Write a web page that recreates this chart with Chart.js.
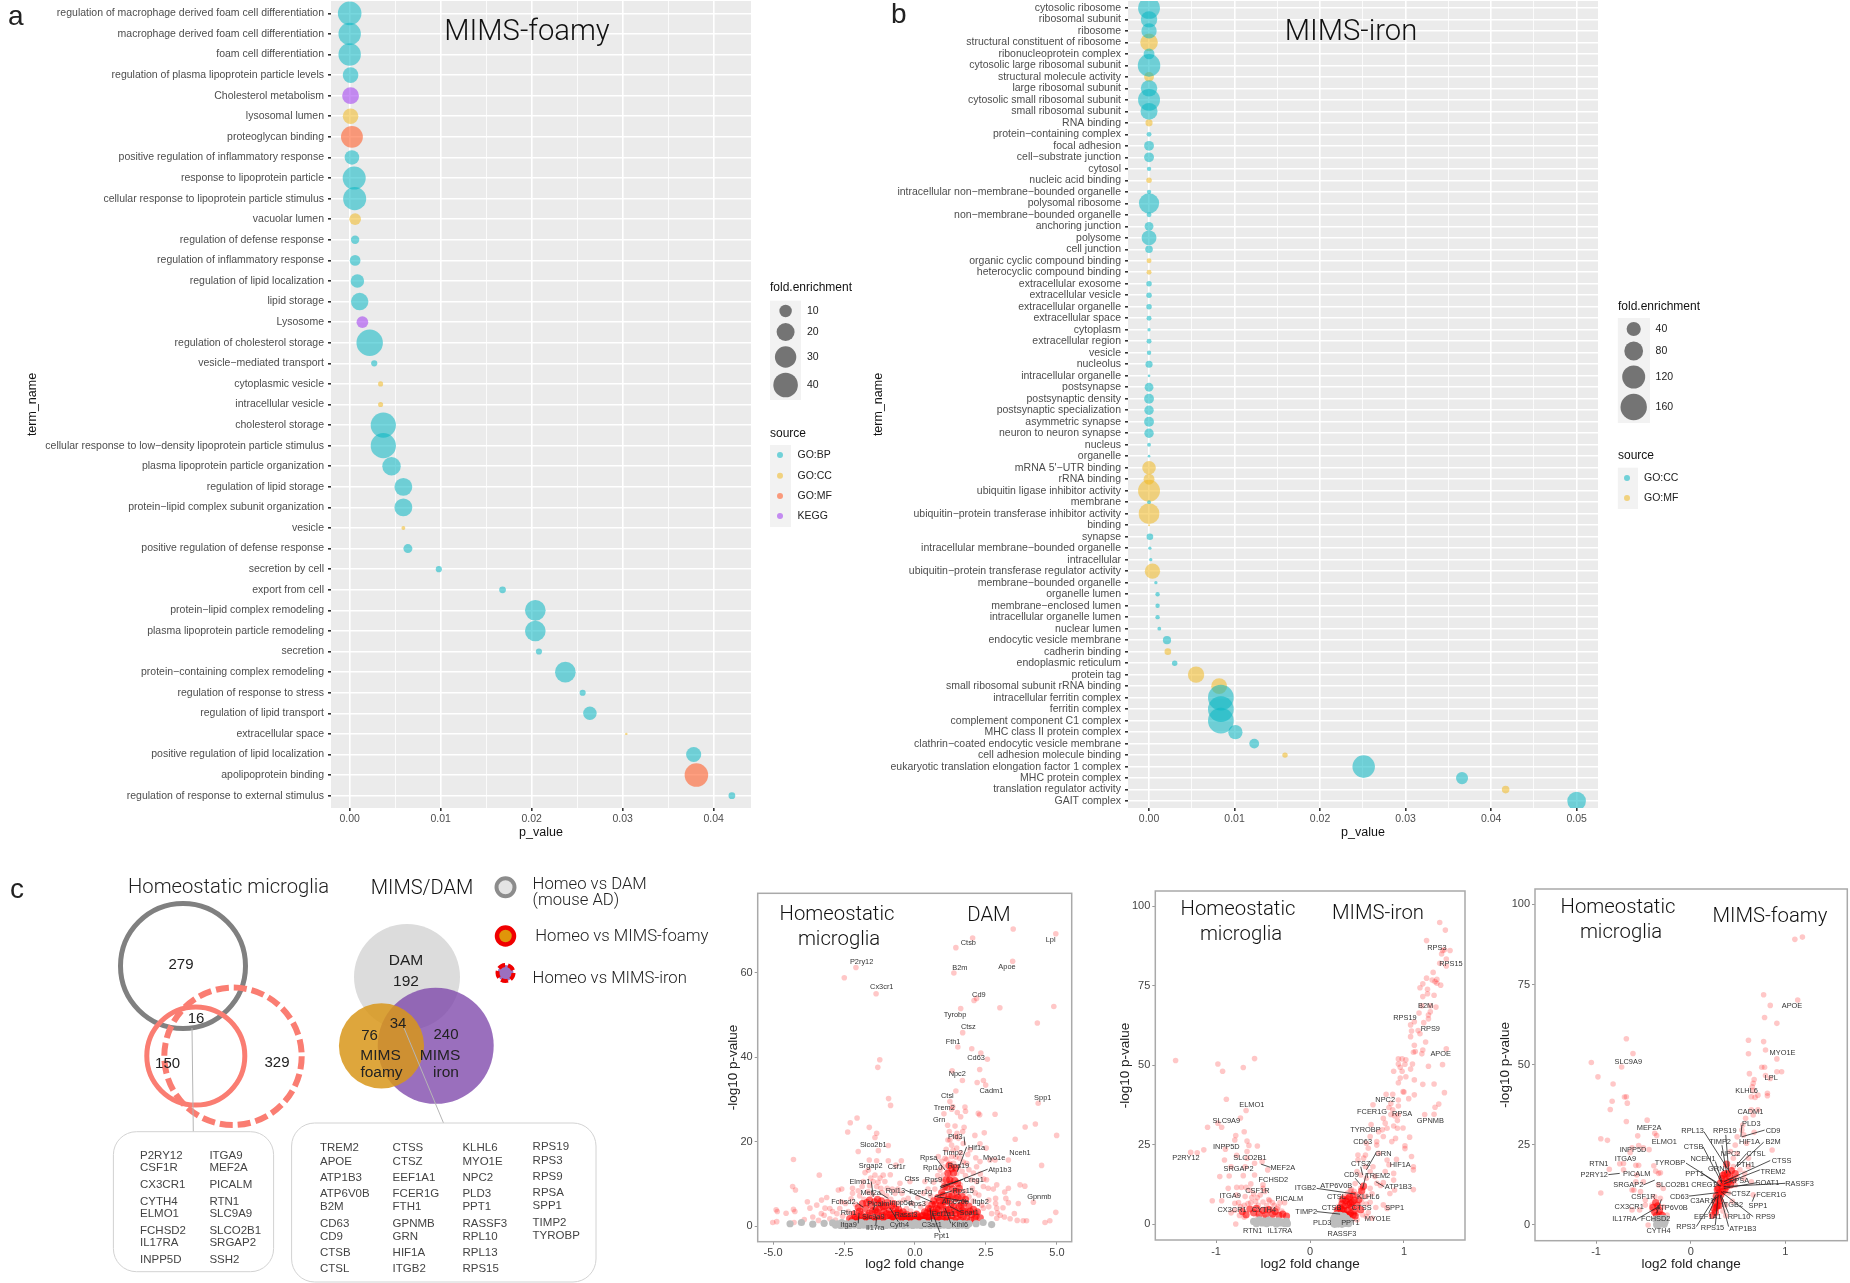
<!DOCTYPE html>
<html>
<head>
<meta charset="utf-8">
<title>MIMS</title>
<script src="https://cdn.jsdelivr.net/npm/chart.js@4"></script>
<style>
html, body { margin: 0; padding: 0; background: #fff; overflow: hidden; }
#page { position: relative; width: 1850px; height: 1283px; }
canvas { position: absolute; }
</style>
</head>
<body>
<div id="page"></div>
<script>
// panel a
const termsA = ['regulation of macrophage derived foam cell differentiation','macrophage derived foam cell differentiation','foam cell differentiation','regulation of plasma lipoprotein particle levels','Cholesterol metabolism','lysosomal lumen','proteoglycan binding','positive regulation of inflammatory response','response to lipoprotein particle','cellular response to lipoprotein particle stimulus','vacuolar lumen','regulation of defense response','regulation of inflammatory response','regulation of lipid localization','lipid storage','Lysosome','regulation of cholesterol storage','vesicle\u2212mediated transport','cytoplasmic vesicle','intracellular vesicle','cholesterol storage','cellular response to low\u2212density lipoprotein particle stimulus','plasma lipoprotein particle organization','regulation of lipid storage','protein\u2212lipid complex subunit organization','vesicle','positive regulation of defense response','secretion by cell','export from cell','protein\u2212lipid complex remodeling','plasma lipoprotein particle remodeling','secretion','protein\u2212containing complex remodeling','regulation of response to stress','regulation of lipid transport','extracellular space','positive regulation of lipid localization','apolipoprotein binding','regulation of response to external stimulus'];
const pValuesA = [0,0,0,0.0001,0.0001,0.0001,0.00025,0.00025,0.0005,0.00055,0.0006,0.0006,0.0006,0.00085,0.0011,0.0014,0.0022,0.0027,0.0034,0.0034,0.0037,0.0037,0.0046,0.0059,0.0059,0.0059,0.0064,0.0098,0.0168,0.0204,0.0204,0.0208,0.0237,0.0256,0.0264,0.0304,0.0378,0.0381,0.042];
const foldA = [36.5,33,33,16,18.6,16,31.5,14,35,35,9,4.7,7.5,12,20,9,46,2.5,1.7,1.7,42,42,22.5,21,21,1,5.3,2.5,3,28,28,2.5,28,2.5,12,0.4,15,36.5,3];
const sourceA = ['BP','BP','BP','BP','KEGG','CC','MF','BP','BP','BP','CC','BP','BP','BP','BP','KEGG','BP','BP','CC','CC','BP','BP','BP','BP','BP','CC','BP','BP','BP','BP','BP','BP','BP','BP','BP','CC','BP','MF','BP'];
const xTicksA = [0,0.005,0.01,0.015,0.02,0.025,0.03,0.035,0.04];

// panel b
const termsB = ['cytosolic ribosome','ribosomal subunit','ribosome','structural constituent of ribosome','ribonucleoprotein complex','cytosolic large ribosomal subunit','structural molecule activity','large ribosomal subunit','cytosolic small ribosomal subunit','small ribosomal subunit','RNA binding','protein\u2212containing complex','focal adhesion','cell\u2212substrate junction','cytosol','nucleic acid binding','intracellular non\u2212membrane\u2212bounded organelle','polysomal ribosome','non\u2212membrane\u2212bounded organelle','anchoring junction','polysome','cell junction','organic cyclic compound binding','heterocyclic compound binding','extracellular exosome','extracellular vesicle','extracellular organelle','extracellular space','cytoplasm','extracellular region','vesicle','nucleolus','intracellular organelle','postsynapse','postsynaptic density','postsynaptic specialization','asymmetric synapse','neuron to neuron synapse','nucleus','organelle',"mRNA 5'\u2212UTR binding",'rRNA binding','ubiquitin ligase inhibitor activity','membrane','ubiquitin\u2212protein transferase inhibitor activity','binding','synapse','intracellular membrane\u2212bounded organelle','intracellular','ubiquitin\u2212protein transferase regulator activity','membrane\u2212bounded organelle','organelle lumen','membrane\u2212enclosed lumen','intracellular organelle lumen','nuclear lumen','endocytic vesicle membrane','cadherin binding','endoplasmic reticulum','protein tag','small ribosomal subunit rRNA binding','intracellular ferritin complex','ferritin complex','complement component C1 complex','MHC class II protein complex','clathrin\u2212coated endocytic vesicle membrane','cell adhesion molecule binding','eukaryotic translation elongation factor 1 complex','MHC protein complex','translation regulator activity','GAIT complex'];
const pValuesB = [0,0,0,0,0,0,0,0,0,0,0,0,0,0,0,0,0,0,0,0,0,0,0,0,0,0,0,0,0,0,0,0,0,0,0,0,0,0,0,0,0,0,0,0,0,0,0.0001,0.0001,0.0002,0.0004,0.0008,0.001,0.001,0.001,0.0012,0.0021,0.0022,0.003,0.0055,0.0082,0.0084,0.0084,0.0084,0.0101,0.0123,0.0159,0.0251,0.0366,0.0417,0.05];
const foldB = [109,61,53,70,27,115,22,61,109,65,11.5,5.5,22,22,4.4,6.8,4.4,93,5.5,17.5,50,13,5.5,5.5,6.8,6.8,6.8,5.5,2.5,5.5,4.4,11.5,1.7,17.5,22,20,22,20,3.3,1.7,42,27,109,3.3,98,1,10,2.5,2.5,53,2.5,4.4,4.4,4.4,3.3,15,10,6.8,61,57,150,150,150,46,22,6.8,115,33,13,79];
const sourceB = ['CC','CC','CC','MF','CC','CC','MF','CC','CC','CC','MF','CC','CC','CC','CC','MF','CC','CC','CC','CC','CC','CC','MF','MF','CC','CC','CC','CC','CC','CC','CC','CC','CC','CC','CC','CC','CC','CC','CC','CC','MF','MF','MF','CC','MF','MF','CC','CC','CC','MF','CC','CC','CC','CC','CC','CC','MF','CC','MF','MF','CC','CC','CC','CC','CC','MF','CC','CC','MF','CC'];
const xTicksB = [0,0.005,0.01,0.015,0.02,0.025,0.03,0.035,0.04,0.045,0.05];

const sourceColors = { BP: 'rgba(8,183,194,0.55)', CC: 'rgba(240,184,32,0.55)', MF: 'rgba(255,100,50,0.62)', KEGG: 'rgba(165,70,240,0.6)' };
const sourceColorsB = { CC: 'rgba(8,183,194,0.55)', MF: 'rgba(240,184,32,0.55)' };

// volcano DAM
const damSparse = [[3.46,70.3],[4.96,69.2],[2.03,68.2],[1.44,65.9],[3.44,62.7],[1.37,59.9],[-2.08,61.2],[-2.49,58.8],[-1.37,55],[2.17,53.9],[2.08,53.4],[1.61,51.5],[2.99,51.7],[4.89,52],[4.31,48.1],[1.68,45.8],[1.51,42.4],[2,42],[2.32,41],[2.55,39.5],[-1.24,39.4],[-1.31,37.6],[2.28,37.1],[1.31,36.8],[1.67,34.5],[2.41,34.5],[2.19,34],[2.49,33.4],[1.44,32],[-0.93,30.2],[-0.86,28.6],[1.23,29.5],[4.34,29.1],[1.33,28.3],[1.76,28.2],[1.78,27.2],[1.29,27.7],[1.49,26.9],[1.02,26.6],[2.23,26.7],[2.28,26.4],[2.82,26.5],[1.61,25.9],[-2.04,25.6],[-2.28,24.5],[4.24,24.2],[3.88,23.5],[1.15,23.9],[1.41,23.7],[1.73,23.4],[-1.61,23.4],[-1.35,22],[-2.37,22.3],[1.21,22.4],[1.68,22.4],[2.44,22.1],[4.99,21.5],[2.11,21.5],[3.53,20.6],[-1.41,21],[1.41,21.2],[1.53,20.8],[1.23,20.4],[2.29,19.5],[-0.94,19.1],[1.29,19.2],[1.7,19.6],[2.51,18.5],[-1.29,17.9],[-2,17.7],[1.47,18.5],[1.94,18.1],[-4.28,15.8],[-1.61,15.7],[-0.48,15.5],[-0.94,15.5],[-1.35,15.5],[-0.67,14.5],[2.14,16.2],[2.29,15.3],[2.64,15.7],[2.82,15.7],[3.29,15.7],[4.46,14.4],[0.82,16.5],[1.06,16.1],[1.29,16.5],[1.58,16.1],[1.82,14.9],[2.17,14.1],[-1.64,13.3],[-1.76,12.7],[1,14.1],[1.23,14.9],[1.53,14.1],[0.88,13.3],[1.17,13.2],[-3.37,12.1],[-1.41,12.1],[-1.12,12.1],[-0.87,12.2],[-1.23,11.4],[1,12.1],[1.23,12.1],[1.47,12.5],[2.52,11],[-1.82,10.6],[-1.47,10.6],[-1.06,10.6],[-0.53,10.2],[-0.18,10.6],[0.35,10.6],[1,10.6],[1.29,11],[2.17,10.6],[2.88,9.8],[3.7,9.8],[3.87,9.5],[-4.31,9.4],[-4.21,8.6],[2.41,9.4],[2.58,9],[2.76,8.8],[3.29,9],[3.16,8.1],[-2.7,8.6],[-2.58,8.8],[-3.11,6.8],[-3.29,6.2],[-3.79,5.8],[2.84,6.6],[3.2,6.6],[3.64,5.4],[4.17,5.7],[2.84,5.4],[3.29,5.6],[2.88,4.3],[-4.89,3.9],[-4.85,3.5],[-4.28,4],[-4.23,3.5],[-4.54,3.1],[-3.46,5],[-3.7,4.3],[-3.17,4.3],[4.96,3.3],[2.41,4.3],[2.17,3.1],[2.88,1.9],[3.81,1.3],[3.93,1.3],[4.75,1.3],[4.58,0.9],[-4.26,0.9],[-4.87,1.1],[-5.01,0.9],[-3.9,1.6],[-3.6,2.2],[-3.4,1.4],[-3.2,2.6],[-3,1.8],[-2.9,3.5],[-2.8,1.5],[-2.65,4.2],[-2.55,2.4],[-2.45,5.4],[-2.35,3.5],[-2.25,6.5],[-2.1,5.2],[-1.95,7.2],[-1.8,6.4],[-1.65,8.2],[-1.5,7.6],[-1.35,9.4],[-1.15,8],[-1,7.2],[-0.85,6.4],[-0.7,7.8],[-0.55,5.6],[-0.4,6.2],[-0.3,4.2],[-0.15,3.6],[0.05,3.2],[0.2,4.6],[0.4,5.4],[0.55,7.2],[0.7,8.8],[1.4,8.4],[1.6,9.8],[1.75,8.2],[1.9,7],[2.05,6],[2.25,7.4],[2.35,5],[2.6,4.6],[2.7,3],[3,2.6],[3.1,4.4],[3.35,1.8],[3.5,3],[3.6,1.4],[0.9,11],[0.94,15.4],[1.1,18.2],[1.12,15.8],[1.16,20.4],[1.34,18],[1.36,14.9],[1.44,16.4],[1.48,22],[1.6,17.4],[1.66,13],[1.7,15.2],[1.78,12],[1.86,17],[1.9,13.4],[1.98,11],[2.06,12.6],[2.3,12.4],[2.42,11.2],[2.02,9],[2.12,7.9],[-2.2,9],[-2,8.4],[-1.86,9.4],[-1.56,11.4],[-1.6,9.6],[-1.3,10.4],[-1.2,9],[-0.98,9],[-0.8,8.8],[-0.6,8.8],[-0.46,7.8],[-0.24,6.6],[-0.1,5.4],[0.1,6.8],[0.3,7.8],[0.46,8.8],[0.66,10.4],[0.8,12],[-2.6,5.8],[-2.75,3],[-3,4.2],[-3.3,3],[-2.2,7.8],[2.6,6.2],[2.9,3.2],[3.15,2.2]];
const damDense = [[-2.3,1.8],[-2.15,2.9],[-2.05,1.7],[-1.95,3.6],[-1.85,2.2],[-1.75,4.2],[-1.7,1.7],[-1.6,3.1],[-1.55,5],[-1.45,1.9],[-1.4,3.9],[-1.3,2.6],[-1.25,5.3],[-1.2,1.6],[-1.1,3.4],[-1.05,4.8],[-0.95,2.2],[-0.9,3.9],[-0.82,1.7],[-0.75,3],[-0.68,4.1],[-0.6,2.1],[-0.52,3.1],[-0.45,1.7],[-0.36,2.5],[-0.28,1.6],[-0.18,2.1],[-0.08,1.6],[0.02,1.7],[0.1,2.2],[0.2,1.6],[0.28,2.6],[0.36,1.8],[0.42,3.2],[0.5,2.1],[0.55,4.1],[0.62,1.7],[0.66,3.1],[0.72,5.2],[0.78,2.2],[0.82,3.9],[0.87,6.1],[0.92,1.8],[0.96,4.7],[1,7.4],[1.05,2.9],[1.08,5.8],[1.12,9.2],[1.15,1.9],[1.18,3.9],[1.2,7.2],[1.22,11],[1.27,5.2],[1.3,2.6],[1.33,8.8],[1.36,12.6],[1.4,3.8],[1.43,6.6],[1.48,1.9],[1.5,10.2],[1.55,4.8],[1.6,2.8],[1.66,7],[1.74,3.6],[1.82,1.9],[1.9,4.8],[2,2.8],[2.1,1.8],[2.2,3.4],[-2.22,1.4],[-2.1,2.2],[-1.98,1.4],[-1.9,2.8],[-1.78,1.5],[-1.68,2.6],[-1.62,1.5],[-1.5,3.6],[-1.5,1.5],[-1.35,1.4],[-1.34,3.4],[-1.27,4.2],[-1.15,2.6],[-1.12,1.4],[-1,3],[-1,1.4],[-0.88,2.8],[-0.86,1.4],[-0.78,2.1],[-0.7,1.5],[-0.64,3.2],[-0.56,1.4],[-0.48,2.4],[-0.4,1.4],[-0.32,1.8],[-0.22,1.4],[-0.12,1.4],[-0.02,1.4],[0.06,1.4],[0.15,1.4],[0.24,1.4],[0.32,1.4],[0.4,2.4],[0.46,1.4],[0.54,3],[0.58,1.4],[0.7,3.4],[0.7,1.4],[0.76,4.2],[0.84,2.8],[0.86,1.4],[0.9,5],[0.98,3],[1,1.4],[1.02,6],[1.1,4],[1.1,1.4],[1.16,6.4],[1.24,3.2],[1.25,1.4],[1.3,7.2],[1.36,4.6],[1.38,1.4],[1.45,3],[1.52,6.8],[1.58,3.4],[1.6,1.4],[1.7,2.2],[1.72,5.4],[1.86,3.2],[1.96,1.4],[-2,4.4],[-1.85,5.4],[-1.7,5.6],[-1.6,6.2],[-1.42,5.8],[-1.32,6.4],[-1.18,6],[-1.12,4.6],[-0.98,5.6],[-0.82,4.8],[-0.75,5.4],[-0.58,4],[-0.42,3.4],[-0.3,2.8],[-0.12,2.6],[0.06,2.8],[0.22,2.4],[0.34,3.4],[0.48,4.2],[0.6,5.2],[0.66,6],[0.8,6.8],[0.94,8],[1.04,9.4],[1.1,11],[1.16,12.6],[1.26,10],[1.3,13.6],[1.2,14.4],[1.4,10.8],[1.42,13.8],[1.48,8.2],[1.56,9],[1.62,5],[1.68,3.8],[1.78,6.4],[1.94,3.6],[2.06,4],[2.15,2.4],[2.3,2]];
const damGray = [[-2.9,0.8],[-2.8,0.3],[-2.72,0.6],[-2.62,0.2],[-2.58,0.9],[-2.48,0.3],[-2.4,0.6],[-2.3,0.2],[-2.22,0.8],[-2.14,0.3],[-2.05,0.6],[-1.97,0.2],[-1.9,0.9],[-1.82,0.3],[-1.74,0.6],[-1.66,0.2],[-1.58,0.8],[-1.5,0.3],[-1.42,0.6],[-1.34,0.2],[-1.26,0.7],[-1.18,0.3],[-1.1,0.6],[-1.02,0.2],[-0.94,0.9],[-0.87,0.3],[-0.8,0.6],[-0.72,0.2],[-0.64,0.8],[-0.56,0.3],[-0.48,0.6],[-0.4,0.2],[-0.32,0.7],[-0.24,0.3],[-0.16,0.6],[-0.08,0.2],[0,0.8],[0.07,0.3],[0.14,0.6],[0.22,0.2],[0.3,0.9],[0.38,0.3],[0.46,0.6],[0.54,0.2],[0.62,0.8],[0.7,0.3],[0.78,0.6],[0.86,0.2],[0.94,0.7],[1.02,0.3],[1.1,0.6],[1.18,0.2],[1.26,0.8],[1.34,0.3],[1.42,0.6],[1.5,0.2],[1.58,0.7],[1.66,0.3],[1.74,0.6],[1.82,0.2],[1.9,0.6],[-3.2,0.7],[-3.6,0.5],[-4,0.9],[-4.4,0.6],[2.15,0.6],[2.4,0.9],[2.7,0.4]];
const damXTicks = [-5,-2.5,0,2.5,5];
const damYTicks = [0,20,40,60];
const damLabels = [['Ctsb',1.88,66.9],['Lpl',4.78,67.8],['P2ry12',-1.88,62.6],['B2m',1.58,61.2],['Apoe',3.24,61.3],['Cx3cr1',-1.17,56.5],['Cd9',2.25,54.7],['Tyrobp',1.41,50],['Ctsz',1.88,47.2],['Fth1',1.34,43.7],['Cd63',2.15,39.7],['Npc2',1.49,36],['Cadm1',2.69,31.9],['Ctsl',1.14,30.9],['Spp1',4.5,30.3],['Trem2',1.03,28],['Grn',0.85,25.2],['Pld3',1.42,21.2],['Slco2b1',-1.47,19.2],['Hif1a',2.17,18.6],['Nceh1',3.7,17.4],['Timp2',1.33,17.3],['Myo1e',2.79,16.2],['Rpsa',0.48,16.2],['Srgap2',-1.56,14.3],['Csf1r',-0.65,14.1],['Rpl10',0.62,13.7],['Rps19',1.53,14.3],['Atp1b3',2.99,13.4],['Ctss',-0.11,11.2],['Rps9',0.65,10.9],['Creg1',2.07,11],['Elmo1',-1.94,10.6],['Mef2a',-1.56,8],['Rpl13',-0.69,8.4],['Fcer1g',0.2,8.2],['Rps15',1.7,8.3],['Gpnmb',4.38,6.9],['Fchsd2',-2.52,5.8],['Atp6v0b',1.42,5.8],['Itgb2',2.31,5.8],['Inpp5d',-0.5,5.6],['Rps3',0.08,5.4],['Picalm',-1.29,5.2],['Rtn1',-2.34,3.2],['Rassf3',-0.32,2.8],['Eef1a1',1,2.9],['Soat1',1.91,3.2],['Slc9a9',-1.47,2.3],['Itga9',-2.34,0.4],['Il17ra',-1.4,-0.3],['Cyth4',-0.55,0.2],['C3ar1',0.59,0.2],['Klhl6',1.58,0.4],['Ppt1',0.94,-2.3]];
const damLinks = [[1.73,21.2,1.76,19.2],[1.82,18.8,1.49,12.9],[0.76,15.9,1.06,13.3],[2.56,13.5,0.88,9],[1.7,11.1,0.88,9.4],[-1.54,10.6,-1.47,7],[-1.23,7.8,-0.94,6.6],[-0.35,8.6,0.59,5.8],[1.31,8.4,0.7,7],[1.88,5.8,0.76,7],[-2.05,5.6,-1.82,4.5],[-0.59,1.1,-0.88,4.3],[-1.38,0.3,-1.35,2.3],[-2,0.7,-1.97,3.1],[0.59,1.1,0.53,4.3],[0.88,-1.5,0.62,3.1],[1.26,0.7,1.06,4.3],[1.58,3.5,1.23,4.7],[-1.47,3.9,-1.41,5]];

// volcano MIMS-iron
const ironSparse = [[1.38,94.9],[1.44,92.5],[1.24,89.2],[1.41,86.1],[1.43,86.3],[1.49,86.1],[1.4,85],[1.45,83.4],[1.38,82.1],[1.45,81.2],[1.31,79.2],[1.24,77.4],[1.3,76.8],[1.35,77],[1.33,76.3],[1.35,75.8],[1.39,75.2],[1.2,75.6],[1.17,74.4],[1.25,73.9],[1.25,72.5],[1.32,72],[1.2,71.6],[1.34,68.3],[1.28,68.7],[1.19,68.7],[1.28,66.8],[1.26,65.8],[1.16,66.4],[1.26,64.6],[1.11,63.7],[1.07,62.7],[1.21,63.4],[1.15,60.9],[1.17,59.9],[1.08,60.8],[1.07,59],[1.23,57.3],[1.11,56.3],[1.45,55.2],[1.2,54.8],[1.1,54.1],[1.12,54.3],[1.19,53.6],[1.41,50.2],[1.26,49.7],[0.94,52],[0.98,52],[1.02,51.7],[0.94,50.4],[1.01,50.3],[1.09,50.4],[0.96,49.4],[0.89,48.1],[0.98,48.1],[1.07,48.8],[1.02,46.4],[0.96,46],[1.11,45.4],[0.94,44.5],[1.2,44],[1.32,44.1],[1.43,41.4],[0.99,41.7],[1,41.6],[0.81,40.9],[0.88,40.9],[1.11,40.7],[1.05,39.5],[0.94,39.1],[0.67,37.6],[1.37,37.8],[0.86,38],[0.84,36.7],[0.94,37.2],[0.88,36],[1.33,36.8],[1.22,34.5],[1.32,34.6],[0.86,34.5],[0.9,34.1],[0.94,34.4],[0.78,33.3],[0.65,31.4],[0.8,31.8],[0.93,32.6],[0.89,30.9],[0.82,30.2],[0.99,30.3],[0.93,30.2],[0.77,29.7],[0.73,29.1],[0.64,27.6],[0.78,27.6],[1.06,27.4],[0.87,26],[0.91,27],[0.71,26],[0.6,25.5],[0.71,24.9],[1.01,24.7],[1.01,23.8],[0.62,23.9],[0.59,21.8],[0.51,21.8],[1.08,21.3],[0.73,22.3],[0.92,20.4],[0.51,20.2],[0.57,20.8],[0.82,20.2],[0.84,18.7],[1.1,18.1],[1.1,17.1],[0.67,18.1],[0.59,18.1],[0.89,16],[0.8,16.6],[0.5,16.6],[0.64,16.6],[0.54,15.5],[0.69,15],[0.89,13.9],[0.6,14.5],[0.78,13.1],[0.71,12.9],[0.54,11.3],[0.56,11.4],[1.1,10.9],[0.64,11.3],[0.85,9.7],[0.9,10.8],[0.78,6.1],[0.82,5],[0.7,5.3],[0.62,3.7],[0.66,1.9],[0.75,12.2],[0.66,9.6],[0.6,8.8],[0.55,6.9],[0.48,12.8],[0.44,11],[-1.43,51.5],[-0.59,52.1],[-0.98,50.4],[-0.71,49.3],[-0.93,48.1],[-0.89,39.3],[-0.68,35.8],[-0.74,33.4],[-0.98,31.8],[-0.94,30.5],[-1.09,30.5],[-0.7,29.1],[-0.79,27.9],[-0.8,26.5],[-0.67,26.2],[-0.65,24.8],[-1.13,23.4],[-1.27,22.6],[-1.2,22.5],[-0.9,23.6],[-0.67,22.9],[-0.56,24.6],[-0.91,20.2],[-0.78,21.7],[-0.51,19.7],[-0.67,20.8],[-0.59,19.2],[-0.45,17.1],[-0.84,18.1],[-0.96,15],[-0.86,15.2],[-0.71,15.3],[-0.59,15.5],[-0.69,18.1],[-0.63,12.7],[-0.5,12.4],[-0.78,11.6],[-0.87,11.3],[-0.73,11.6],[-0.68,11.6],[-0.5,11.3],[-0.48,10.3],[-0.64,10.8],[-1.04,7.4],[-0.94,7.4],[-0.78,9.2],[-0.69,8.7],[-0.8,6.6],[-0.76,6.8],[-0.43,7.4],[-0.4,6.8],[-0.32,6.8],[-0.27,6.8],[-0.79,0.1],[-0.7,2.2],[-0.66,6.5],[-0.62,8.4],[-0.58,7.2],[-0.53,9.2],[-0.55,6],[-0.46,5.9],[-0.42,4.9],[-0.35,4.9],[-0.3,4.2],[-0.84,3.6],[-0.8,4.4],[-0.75,2.8],[-0.74,5.6],[-0.7,6],[-0.63,6.8],[-0.6,9.6],[-0.56,8.4],[-0.5,7],[-0.44,7.8],[-0.38,6],[-0.34,5.4],[-0.56,2.4],[-0.48,2.2],[-0.4,2.2],[0.3,5.6],[0.33,7.6],[0.36,8.8],[0.4,9.8],[0.43,10.6],[0.47,10.4],[0.5,9.4],[0.53,9.6],[0.57,8.6],[0.6,6.4],[0.64,6.9],[0.5,3.4],[0.56,3],[0.6,2.4],[0.45,1.6],[0.5,1.4]];
const ironDense = [[-0.72,4],[-0.68,3],[-0.64,4.8],[-0.6,3.6],[-0.57,5],[-0.54,3.2],[-0.5,4.4],[-0.47,3],[-0.44,4.6],[-0.4,3.2],[-0.37,4],[-0.33,2.8],[-0.29,3.2],[-0.25,2.6],[0.27,2.8],[0.3,3.6],[0.33,2.4],[0.34,4.6],[0.36,3.2],[0.37,5.8],[0.38,7.4],[0.39,2.6],[0.4,4.4],[0.41,6.2],[0.42,8.6],[0.43,3.4],[0.44,5.4],[0.45,7],[0.46,9.2],[0.47,4.2],[0.48,2.6],[0.5,6],[0.52,7.8],[0.54,4.6],[0.55,10.5],[0.57,12],[0.34,6.4],[0.31,2.2],[0.29,4.5],[0.32,5.2],[0.35,7.9],[0.4,8],[0.43,6.6],[0.47,7.6],[0.36,4.4],[0.41,3],[0.46,3]];
const ironGray = [[-0.6,0.9],[-0.57,0.2],[-0.54,1.4],[-0.51,0.4],[-0.49,1],[-0.46,0.2],[-0.44,1.3],[-0.41,0.5],[-0.39,0.9],[-0.36,0.1],[-0.34,1.1],[-0.32,0.4],[-0.3,0.8],[-0.27,0.2],[-0.25,0.9],[-0.24,0.2],[0.25,0.4],[0.25,1.6],[0.27,2.6],[0.28,0.9],[0.3,1.9],[0.31,0.2],[0.32,1.2],[0.34,2.4],[0.35,0.6],[0.37,1.5],[0.38,0.3],[0.4,1],[0.41,0.2],[0.26,0],[0.29,0.1],[0.34,0],[0.26,2],[0.28,2.9],[0.32,2.8],[0.36,2.6],[0.39,1.9],[0.42,1],[0.29,1.4]];
const ironXTicks = [-1,0,1];
const ironYTicks = [0,25,50,75,100];
const ironLabels = [['RPS3',1.35,86.8],['RPS15',1.5,81.7],['B2M',1.23,68.7],['RPS19',1.01,64.9],['RPS9',1.28,61.4],['APOE',1.39,53.4],['NPC2',0.8,39.1],['ELMO1',-0.62,37.6],['FCER1G',0.66,35.3],['RPSA',0.98,34.6],['SLC9A9',-0.89,32.4],['GPNMB',1.28,32.6],['TYROBP',0.59,29.6],['CD63',0.56,25.8],['INPP5D',-0.89,24.4],['GRN',0.78,22.2],['P2RY12',-1.32,20.8],['SLCO2B1',-0.64,20.9],['CTSZ',0.54,19.1],['HIF1A',0.96,18.8],['MEF2A',-0.29,17.6],['SRGAP2',-0.76,17.4],['CD9',0.44,15.6],['TREM2',0.72,15.2],['FCHSD2',-0.39,14],['ITGB2',-0.05,11.3],['ATP6V0B',0.28,12.1],['ATP1B3',0.94,11.7],['CSF1R',-0.56,10.6],['ITGA9',-0.85,8.8],['CTSL',0.28,8.6],['KLHL6',0.62,8.7],['PICALM',-0.22,7.9],['CTSS',0.55,5.2],['SPP1',0.9,5.2],['CTSB',0.23,5],['CX3CR1',-0.83,4.4],['CYTH4',-0.49,4.4],['TIMP2',-0.04,4],['MYO1E',0.72,1.8],['PLD3',0.13,0.4],['PPT1',0.43,0.5],['RTN1',-0.61,-2],['IL17RA',-0.32,-2],['RASSF3',0.34,-3]];
const ironLinks = [[0.07,11.3,0.48,9.5],[-0.42,17.9,-0.52,18.9],[0.7,22.3,0.6,17.1],[0.54,18.1,0.56,15.5],[0.48,14.5,0.54,12.4],[0.6,16,0.56,11.3],[0.79,11.8,0.7,13.4],[0.07,4,0.32,3.2]];

// volcano MIMS-foamy
const foamySparse = [[1.18,89.8],[1.1,89.1],[1.13,70.2],[0.77,71.8],[0.84,68.5],[0.78,64.7],[0.91,62.9],[0.61,57.6],[0.77,57.2],[0.79,54.6],[0.61,53.4],[0.91,51.8],[0.75,49.2],[0.78,49.2],[0.91,47.8],[0.96,47.8],[0.62,47.2],[0.79,46.6],[0.84,45.7],[0.67,45.4],[0.66,44.2],[0.65,43.1],[0.66,41.9],[0.81,41.1],[0.81,40.3],[0.71,40.5],[0.64,40],[0.68,39.8],[0.64,35.9],[0.71,35.9],[0.66,34.3],[0.58,33.3],[0.55,31.2],[0.54,29.6],[0.67,28.9],[0.56,28.1],[0.49,27.5],[0.86,23.4],[0.47,24.9],[0.59,25.5],[0.42,22.9],[0.49,22.3],[0.45,20.8],[0.61,20.8],[0.61,18.2],[0.52,17.2],[0.57,16.1],[0.45,18.2],[0.38,18.2],[0.49,15.1],[0.66,9.4],[0.64,13.5],[0.56,14.6],[0.47,12.4],[0.4,10],[0.44,7.4],[0.37,6.2],[0.34,4.4],[0.37,2.9],[-0.68,58.1],[-0.61,53.5],[-1.05,50.7],[-0.73,49.3],[-0.98,46.2],[-0.82,44],[-0.7,39.9],[-0.68,40],[-0.83,38.6],[-0.67,38],[-0.85,36],[-0.68,32.3],[-0.46,32.7],[-0.38,28.6],[-0.36,27.9],[-0.56,27.8],[-0.95,26.9],[-0.88,26.4],[-0.55,24.8],[-0.62,24.1],[-0.5,24.1],[-0.64,22.6],[-0.44,23.5],[-0.71,19.2],[-0.75,19.1],[-0.58,18.6],[-0.55,18.6],[-0.39,18.5],[-0.86,17.4],[-0.71,17.2],[-0.37,16.8],[-0.34,16.1],[-0.32,16.3],[-0.95,10],[-0.53,10.4],[-0.57,15.6],[-0.58,13.5],[-0.62,10.9],[-0.6,10.9],[-0.5,13.5],[-0.29,11.4],[-0.34,12.5],[-0.38,8.8],[-0.32,8.3],[-0.48,7.8],[-0.41,6.2],[-0.36,5.7],[-0.29,5.7],[-0.48,6.2],[-0.54,4.7],[-0.62,4.7],[-0.41,4.7],[-0.31,3.6],[-0.25,3.1],[-0.45,0],[-0.33,3.6]];
const foamyDense = [[0.23,3],[0.25,5],[0.26,7],[0.27,9],[0.26,4],[0.28,6],[0.29,8],[0.3,10],[0.29,11.5],[0.31,7.5],[0.32,9.5],[0.33,12],[0.31,13],[0.34,10.5],[0.35,13],[0.36,11],[0.33,14.5],[0.37,14],[0.38,12],[0.39,16],[0.4,13.5],[0.41,15],[0.36,16],[0.43,17],[0.38,19],[0.45,14],[0.47,16],[0.3,6],[0.27,5.5],[0.28,11],[0.34,15.5],[0.42,12.5],[-0.4,5.5],[-0.37,7],[-0.38,4],[-0.35,6],[-0.33,4.5],[-0.3,3],[-0.36,3],[-0.33,2.4]];
const foamyGray = [[-0.37,1.8],[-0.35,0.6],[-0.34,1.9],[-0.33,0.2],[-0.32,1.2],[-0.31,2.1],[-0.3,0.5],[-0.29,1.6],[-0.28,0.2],[-0.27,1],[-0.27,2],[-0.36,0.1],[-0.3,1.1]];
const foamyXTicks = [-1,0,1];
const foamyYTicks = [0,25,50,75,100];
const foamyLabels = [['APOE',1.07,68.3],['MYO1E',0.97,53.6],['SLC9A9',-0.66,50.9],['LPL',0.85,46],['KLHL6',0.59,41.8],['CADM1',0.63,35.1],['PLD3',0.64,31.4],['MEF2A',-0.44,30.2],['RPL13',0.02,29.2],['RPS19',0.36,29.2],['CD9',0.87,29.2],['HIF1A',0.62,25.9],['B2M',0.87,25.8],['TIMP2',0.31,25.8],['ELMO1',-0.28,25.8],['CTSB',0.03,24.4],['INPP5D',-0.61,23.5],['NPC2',0.42,22.3],['CTSL',0.69,22.2],['NCEH1',0.13,20.6],['ITGA9',-0.69,20.7],['CTSS',0.96,20.1],['TYROBP',-0.22,19.3],['RTN1',-0.97,19],['FTH1',0.58,18.8],['GRN',0.27,17.4],['TREM2',0.87,16.6],['PPT1',0.04,15.9],['P2RY12',-1.02,15.7],['PICALM',-0.57,15.8],['RPSA',0.51,13.6],['SOAT1',0.81,13.2],['RASSF3',1.15,12.9],['SRGAP2',-0.66,12.4],['SLCO2B1',-0.19,12.4],['CREG1',0.14,12.6],['CD63',-0.12,8.8],['CTSZ',0.53,9.6],['FCER1G',0.85,9.5],['CSF1R',-0.5,8.8],['C3AR1',0.12,7.6],['SPP1',0.71,6],['ITGB2',0.44,6.2],['CX3CR1',-0.65,5.5],['ATP6V0B',-0.2,5.3],['EEF1A1',0.18,2.6],['RPL10',0.51,2.6],['RPS9',0.79,2.5],['IL17RA',-0.7,1.8],['FCHSD2',-0.37,1.9],['RPS3',-0.05,-0.7],['RPS15',0.23,-0.9],['ATP1B3',0.55,-1.2],['CYTH4',-0.34,-1.9]];
const foamyLinks = [[0.14,29.1,0.42,16.1],[0.37,28.1,0.4,17.2],[0.33,24.9,0.38,16.1],[0.13,24.4,0.33,13],[0.26,19.8,0.33,13.5],[-0.05,19.3,0.29,13],[0.12,16.1,0.3,12.5],[0.26,12.6,0.32,12.2],[-0.02,9,0.29,10.1],[0.22,7.6,0.29,8.8],[0.19,3.6,0.27,8.8],[0.06,-0.5,0.27,9.4],[0.26,0,0.29,9.4],[0.4,-0.5,0.31,9.4],[0.66,2.6,0.32,10.4],[0.4,3.6,0.32,9.4],[0.78,29.6,0.54,27.5],[0.54,31.2,0.53,27.5],[0.77,25.8,0.49,18.2],[0.59,22.3,0.47,18.2],[0.84,20.1,0.35,13.5],[0.73,17.2,0.35,12.8],[1,13,0.35,12],[0.7,13.2,0.35,11.4],[0.43,9.9,0.34,10.4],[0.68,9.6,0.65,7.3],[-0.87,15.7,-0.75,16.1],[-0.5,12.5,-0.38,14],[-0.57,1.8,-0.34,5.7],[-0.36,3.6,-0.31,8]];

// panel c gene lists
const box1Col1 = ['P2RY12','CSF1R','CX3CR1','CYTH4','ELMO1','FCHSD2','IL17RA','INPP5D'];
const box1Col2 = ['ITGA9','MEF2A','PICALM','RTN1','SLC9A9','SLCO2B1','SRGAP2','SSH2'];
const box2Col1 = ['TREM2','APOE','ATP1B3','ATP6V0B','B2M','CD63','CD9','CTSB','CTSL'];
const box2Col2 = ['CTSS','CTSZ','EEF1A1','FCER1G','FTH1','GPNMB','GRN','HIF1A','ITGB2'];
const box2Col3 = ['KLHL6','MYO1E','NPC2','PLD3','PPT1','RASSF3','RPL10','RPL13','RPS15'];
const box2Col4 = ['RPS19','RPS3','RPS9','RPSA','SPP1','TIMP2','TYROBP'];

const SANS = '"Liberation Sans", Arial, sans-serif';
Chart.defaults.font.family = SANS;
Chart.defaults.animation = false;
Chart.defaults.events = [];
Chart.defaults.plugins.legend.display = false;
Chart.defaults.plugins.tooltip.enabled = false;

function addCanvas(left, top, w, h) {
    const c = document.createElement('canvas');
    c.width = w; c.height = h;
    c.style.left = left + 'px'; c.style.top = top + 'px';
    c.style.width = w + 'px'; c.style.height = h + 'px';
    document.getElementById('page').appendChild(c);
    return c;
}

const plotFill = {
    id: 'plotFill',
    beforeDraw(chart, args, opts) {
        const a = chart.chartArea, ctx = chart.ctx;
        ctx.save();
        ctx.fillStyle = opts.color || '#ebebeb';
        ctx.fillRect(a.left, a.top, a.right - a.left, a.bottom - a.top);
        ctx.restore();
    }
};

function enrichmentChart(box, plot, terms, pValues, fold, source, colors, xTicks, xMin, xMax, sizeK) {
    const canvas = addCanvas(box.left, box.top, box.w, box.h);
    const datasets = Object.keys(colors).map(s => ({
        label: s,
        clip: 0,
        backgroundColor: colors[s],
        borderWidth: 0,
        data: terms.map((t, i) => ({ x: pValues[i], y: i, r: sizeK * Math.sqrt(fold[i]), s: source[i] })).filter(p => p.s === s)
    }));
    new Chart(canvas, {
        type: 'bubble',
        data: { datasets: datasets },
        plugins: [plotFill],
        options: {
            responsive: false,
            devicePixelRatio: 1,
            layout: { autoPadding: false, padding: { top: plot.top - box.top, right: box.left + box.w - plot.right, left: 0, bottom: 0 } },
            scales: {
                x: {
                    type: 'linear', min: xMin, max: xMax,
                    afterBuildTicks: s => { s.ticks = xTicks.map(v => ({ value: v })); },
                    afterFit: s => { s.height = box.top + box.h - plot.bottom; s.paddingLeft = 0; s.paddingRight = 0; },
                    border: { display: false },
                    grid: {
                        color: '#fff',
                        lineWidth: c => (c.index % 2 ? 0.8 : 1.6),
                        tickColor: c => (c.index % 2 ? 'rgba(0,0,0,0)' : '#333'),
                        tickLength: 3
                    },
                    ticks: {
                        autoSkip: false, maxRotation: 0, padding: 2, color: '#4d4d4d', font: { size: 10.5 },
                        callback: (v, i) => (i % 2 ? '' : v.toFixed(2))
                    },
                    title: { display: true, text: 'p_value', color: '#111', font: { size: 12.5 }, padding: { top: 10, bottom: 10 } }
                },
                y: {
                    type: 'linear', reverse: true, min: -0.6, max: terms.length - 0.4,
                    afterBuildTicks: s => { s.ticks = terms.map((t, i) => ({ value: i })); },
                    afterFit: s => { s.width = plot.left - box.left; s.paddingTop = 0; s.paddingBottom = 0; },
                    border: { display: false },
                    grid: { color: '#fff', lineWidth: 1.6, tickColor: '#333', tickLength: 3 },
                    ticks: {
                        autoSkip: false, padding: 4, color: '#4d4d4d', font: { size: 10.5 },
                        callback: v => terms[v]
                    },
                    title: { display: true, text: 'term_name', color: '#111', font: { size: 12.5 }, padding: { top: plot.titleX - box.left - 8, bottom: 0 } }
                }
            }
        }
    });
}

const volcanoNotes = {
    id: 'volcanoNotes',
    afterDatasetsDraw(chart, args, opts) {
        const ctx = chart.ctx, sx = chart.scales.x, sy = chart.scales.y, a = chart.chartArea;
        ctx.save();
        ctx.strokeStyle = '#222';
        ctx.lineWidth = 0.8;
        opts.links.forEach(l => {
            ctx.beginPath();
            ctx.moveTo(sx.getPixelForValue(l[0]), sy.getPixelForValue(l[1]));
            ctx.lineTo(sx.getPixelForValue(l[2]), sy.getPixelForValue(l[3]));
            ctx.stroke();
        });
        ctx.fillStyle = '#333';
        ctx.font = '7.4px ' + SANS;
        ctx.textAlign = 'center';
        ctx.textBaseline = 'middle';
        opts.labels.forEach(l => ctx.fillText(l[0], sx.getPixelForValue(l[1]), sy.getPixelForValue(l[2])));
        ctx.strokeStyle = '#a9a9a9';
        ctx.lineWidth = 1.5;
        ctx.strokeRect(a.left, a.top, a.right - a.left, a.bottom - a.top);
        ctx.restore();
    }
};

function volcanoChart(box, plot, xr, yr, sparse, dense, gray, xTicks, yTicks, labels, links, xFixed) {
    const canvas = addCanvas(box.left, box.top, box.w, box.h);
    const toPts = arr => arr.map(p => ({ x: p[0], y: p[1] }));
    new Chart(canvas, {
        type: 'scatter',
        data: {
            datasets: [
                { data: toPts(gray), backgroundColor: '#bdbdbd', pointRadius: 3.6, borderWidth: 0 },
                { data: toPts(dense), backgroundColor: 'rgba(255,0,0,0.6)', pointRadius: 3.6, borderWidth: 0 },
                { data: toPts(sparse), backgroundColor: 'rgba(255,0,0,0.22)', pointRadius: 2.8, borderWidth: 0 }
            ]
        },
        plugins: [plotFill, volcanoNotes],
        options: {
            responsive: false,
            devicePixelRatio: 1,
            layout: { autoPadding: false, padding: { top: plot.top - box.top, right: box.left + box.w - plot.right, left: 0, bottom: 0 } },
            plugins: { plotFill: { color: '#fff' }, volcanoNotes: { labels: labels, links: links } },
            scales: {
                x: {
                    type: 'linear', min: xr[0], max: xr[1],
                    afterBuildTicks: s => { s.ticks = xTicks.map(v => ({ value: v })); },
                    afterFit: s => { s.height = box.top + box.h - plot.bottom; s.paddingLeft = 0; s.paddingRight = 0; },
                    border: { display: false },
                    grid: { drawOnChartArea: false, tickColor: '#999', tickLength: 3 },
                    ticks: { autoSkip: false, maxRotation: 0, padding: 2, color: '#444', font: { size: 11 }, callback: v => (xFixed ? v.toFixed(1) : String(v)) },
                    title: { display: true, text: 'log2 fold change', color: '#222', font: { size: 13.5 }, padding: { top: 11, bottom: 11 } }
                },
                y: {
                    type: 'linear', min: yr[0], max: yr[1],
                    afterBuildTicks: s => { s.ticks = yTicks.map(v => ({ value: v })); },
                    afterFit: s => { s.width = plot.left - box.left; s.paddingTop = 0; s.paddingBottom = 0; },
                    border: { display: false },
                    grid: { drawOnChartArea: false, tickColor: '#999', tickLength: 3 },
                    ticks: { autoSkip: false, padding: 2, color: '#444', font: { size: 11 } },
                    title: { display: true, text: '-log10 p-value', color: '#222', font: { size: 13.5 }, padding: { top: plot.titleX - box.left - 8, bottom: 0 } }
                }
            }
        }
    });
}

enrichmentChart({ left: 0, top: 0, w: 765, h: 850 }, { left: 331, right: 751, top: 1, bottom: 808, titleX: 33 },
    termsA, pValuesA, foldA, sourceA, sourceColors, xTicksA, -0.00205, 0.0441, 1.95);
enrichmentChart({ left: 865, top: 0, w: 745, h: 850 }, { left: 1128, right: 1598, top: 1, bottom: 808, titleX: 879 },
    termsB, pValuesB, foldB, sourceB, sourceColorsB, xTicksB, -0.00246, 0.0525, 1.05);

volcanoChart({ left: 715, top: 880, w: 370, h: 403 }, { left: 757.7, right: 1071.7, top: 893.3, bottom: 1241.7, titleX: 733 },
    [-5.54, 5.52], [-3.64, 78.76], damSparse, damDense, damGray, damXTicks, damYTicks, damLabels, damLinks, true);
volcanoChart({ left: 1110, top: 880, w: 365, h: 403 }, { left: 1155.3, right: 1465, top: 891, bottom: 1240, titleX: 1125 },
    [-1.646, 1.649], [-4.94, 104.8], ironSparse, ironDense, ironGray, ironXTicks, ironYTicks, ironLabels, ironLinks, false);
volcanoChart({ left: 1480, top: 880, w: 370, h: 403 }, { left: 1535, right: 1847.3, top: 889, bottom: 1240.7, titleX: 1505 },
    [-1.645, 1.654], [-4.9, 104.8], foamySparse, foamyDense, foamyGray, foamyXTicks, foamyYTicks, foamyLabels, foamyLinks, false);

// page layer: panel letters, titles, legends, venn diagrams, gene boxes
const LIGHT = '300 ';
function T(text, x, y, size, align, color, light) { return { text, x, y, size, align: align || 'left', color: color || '#222', light: !!light }; }
const pageTexts = [
    T('a', 8, 17, 28), T('b', 891, 15, 28), T('c', 10, 890, 28),
    T('MIMS-foamy', 527, 33, 29.2, 'center', '#111', true), T('MIMS-iron', 1351, 33, 29.2, 'center', '#111', true),
    T('fold.enrichment', 770, 288, 12, 'left', '#111'), T('10', 807, 311, 10.5), T('20', 807, 332, 10.5), T('30', 807, 357, 10.5), T('40', 807, 385, 10.5),
    T('source', 770, 434, 12, 'left', '#111'), T('GO:BP', 797.5, 455, 10.5), T('GO:CC', 797.5, 475.7, 10.5), T('GO:MF', 797.5, 496, 10.5), T('KEGG', 797.5, 516, 10.5),
    T('fold.enrichment', 1618, 307, 12, 'left', '#111'), T('40', 1655.6, 329, 10.5), T('80', 1655.6, 351, 10.5), T('120', 1655.6, 377, 10.5), T('160', 1655.6, 407, 10.5),
    T('source', 1618, 456, 12, 'left', '#111'), T('GO:CC', 1644, 478, 10.5), T('GO:MF', 1644, 498, 10.5),
    T('Homeostatic microglia', 228.6, 888, 20.2, 'center', '#222', true), T('MIMS/DAM', 422, 889, 20, 'center', '#111', true),
    T('Homeo vs DAM', 532.6, 885, 16.7, 'left', '#222', true), T('(mouse AD)', 532.6, 901, 16.7, 'left', '#222', true), T('Homeo vs MIMS-foamy', 535.3, 937, 16.7, 'left', '#222', true), T('Homeo vs MIMS-iron', 532.6, 979, 16.7, 'left', '#222', true),
    T('279', 181, 965, 15, 'center'), T('16', 196, 1019, 15, 'center'), T('150', 167.6, 1064, 15, 'center'), T('329', 277, 1063, 15, 'center'),
    T('DAM', 406, 961, 15.5, 'center'), T('192', 406, 982, 15.5, 'center'), T('34', 398, 1024, 15, 'center'),
    T('76', 369.6, 1036, 15, 'center'), T('MIMS', 380.6, 1056, 15.5, 'center'), T('foamy', 381.5, 1073, 15.5, 'center'),
    T('240', 446, 1035, 15, 'center'), T('MIMS', 440, 1056, 15.5, 'center'), T('iron', 446, 1073, 15.5, 'center'),
    T('Homeostatic', 837, 915, 20.3, 'center', '#111', true), T('microglia', 839, 940, 20.3, 'center', '#111', true), T('DAM', 989, 916, 20.3, 'center', '#111', true),
    T('Homeostatic', 1238, 910, 20.3, 'center', '#111', true), T('microglia', 1241, 935, 20.3, 'center', '#111', true), T('MIMS-iron', 1378, 914, 20.3, 'center', '#111', true),
    T('Homeostatic', 1618, 908, 20.3, 'center', '#111', true), T('microglia', 1621, 933, 20.3, 'center', '#111', true), T('MIMS-foamy', 1770, 917, 20.3, 'center', '#111', true)
];
const box1Rows = [1155.7, 1167.7, 1184.7, 1201.7, 1213.7, 1230.7, 1242.7, 1259.7];
const box2Rows = [1148.3, 1161.7, 1177.7, 1194.3, 1206.7, 1223.7, 1236.7, 1252.7, 1269.3];
box1Col1.forEach((g, i) => pageTexts.push(T(g, 140, box1Rows[i], 11.5, 'left', '#444')));
box1Col2.forEach((g, i) => pageTexts.push(T(g, 209.4, box1Rows[i], 11.5, 'left', '#444')));
box2Col1.forEach((g, i) => pageTexts.push(T(g, 320, box2Rows[i], 11.5, 'left', '#444')));
box2Col2.forEach((g, i) => pageTexts.push(T(g, 392.6, box2Rows[i], 11.5, 'left', '#444')));
box2Col3.forEach((g, i) => pageTexts.push(T(g, 462.4, box2Rows[i], 11.5, 'left', '#444')));
box2Col4.forEach((g, i) => pageTexts.push(T(g, 532.6, box2Rows[i] - 1, 11.5, 'left', '#444')));

// circles, listed top layer first because Chart.js paints the last dataset first
const K = 'rgba(0,0,0,0.52)';
const pageCircles = [
    { x: 505.5, y: 973, r: 8, fill: '#9b70c0', line: '#f00000', w: 4, dash: [7, 3] },
    { x: 505.5, y: 936, r: 8.5, fill: '#e0950a', line: '#f00000', w: 4.5 },
    { x: 505.5, y: 887.3, r: 9, fill: '#e4e4e4', line: '#8c8c8c', w: 4 },
    { x: 233, y: 1056.3, r: 68.7, fill: 'rgba(0,0,0,0)', line: '#fa7d72', w: 6, dash: [13, 5] },
    { x: 195.8, y: 1056, r: 49, fill: 'rgba(0,0,0,0)', line: '#fa7d72', w: 5 },
    { x: 183, y: 966, r: 62.5, fill: 'rgba(0,0,0,0)', line: '#808080', w: 5 },
    { x: 381.5, y: 1045.8, r: 42.6, fill: 'rgba(216,150,26,0.85)' },
    { x: 435.7, y: 1045.8, r: 58, fill: 'rgba(125,70,170,0.78)' },
    { x: 407, y: 977, r: 53, fill: '#dcdcdc' },
    { x: 785.6, y: 311, r: 6.2, fill: K }, { x: 785.6, y: 332, r: 9, fill: K }, { x: 785.6, y: 357, r: 10.7, fill: K }, { x: 785.6, y: 385, r: 12.3, fill: K },
    { x: 780, y: 455, r: 3, fill: sourceColors.BP }, { x: 780, y: 475.7, r: 3, fill: sourceColors.CC }, { x: 780, y: 496, r: 3, fill: sourceColors.MF }, { x: 780, y: 516, r: 3, fill: sourceColors.KEGG },
    { x: 1633.7, y: 329, r: 7.1, fill: K }, { x: 1633.7, y: 351, r: 9.4, fill: K }, { x: 1633.7, y: 377, r: 11.5, fill: K }, { x: 1633.7, y: 407, r: 13.2, fill: K },
    { x: 1627, y: 478, r: 3, fill: sourceColorsB.CC }, { x: 1627, y: 498, r: 3, fill: sourceColorsB.MF }
];

const pagePlugin = {
    id: 'pagePlugin',
    beforeDatasetsDraw(chart) {
        const ctx = chart.ctx;
        ctx.save();
        ctx.fillStyle = '#f2f2f2';
        ctx.fillRect(770, 300.7, 31, 99.3);
        ctx.fillRect(770, 445, 21, 82);
        ctx.fillRect(1617.8, 318, 32.2, 105);
        ctx.fillRect(1617.8, 467.7, 20.2, 41.3);
        ctx.restore();
    },
    beforeDatasetDraw(chart, args) {
        const dash = chart.data.datasets[args.index].dash;
        chart.ctx.save();
        if (dash) chart.ctx.setLineDash(dash);
    },
    afterDatasetDraw(chart) {
        chart.ctx.restore();
    },
    afterDatasetsDraw(chart) {
        const ctx = chart.ctx;
        ctx.save();
        ctx.strokeStyle = '#b5b5b5';
        ctx.lineWidth = 1;
        ctx.beginPath();
        ctx.moveTo(192, 1028); ctx.lineTo(193.3, 1131.7);
        ctx.moveTo(404, 1028); ctx.lineTo(443.5, 1123);
        ctx.stroke();
        ctx.strokeStyle = '#d2d2d2';
        ctx.fillStyle = '#fff';
        ctx.beginPath();
        ctx.roundRect(113.4, 1131.7, 160.2, 140, 23);
        ctx.roundRect(291.6, 1123, 304.4, 159, 23);
        ctx.fill();
        ctx.stroke();
        ctx.textBaseline = 'middle';
        pageTexts.forEach(t => {
            ctx.font = t.light ? LIGHT + t.size + 'px Roboto, ' + SANS : t.size + 'px ' + SANS;
            ctx.textAlign = t.align;
            ctx.fillStyle = t.color;
            ctx.fillText(t.text, t.x, t.y);
        });
        ctx.restore();
    }
};

const pageCanvas = addCanvas(0, 0, 1850, 1283);
pageCanvas.style.pointerEvents = 'none';
new Chart(pageCanvas, {
    type: 'bubble',
    data: {
        datasets: pageCircles.map(c => ({
            data: [{ x: c.x, y: c.y, r: c.r }],
            backgroundColor: c.fill,
            borderColor: c.line || 'rgba(0,0,0,0)',
            borderWidth: c.w || 0,
            dash: c.dash,
            clip: false
        }))
    },
    plugins: [pagePlugin],
    options: {
        responsive: false,
        devicePixelRatio: 1,
        layout: { autoPadding: false, padding: 0 },
        scales: {
            x: { type: 'linear', display: false, min: 0, max: 1850 },
            y: { type: 'linear', display: false, min: 0, max: 1283, reverse: true }
        }
    }
});
</script>
</body>
</html>
